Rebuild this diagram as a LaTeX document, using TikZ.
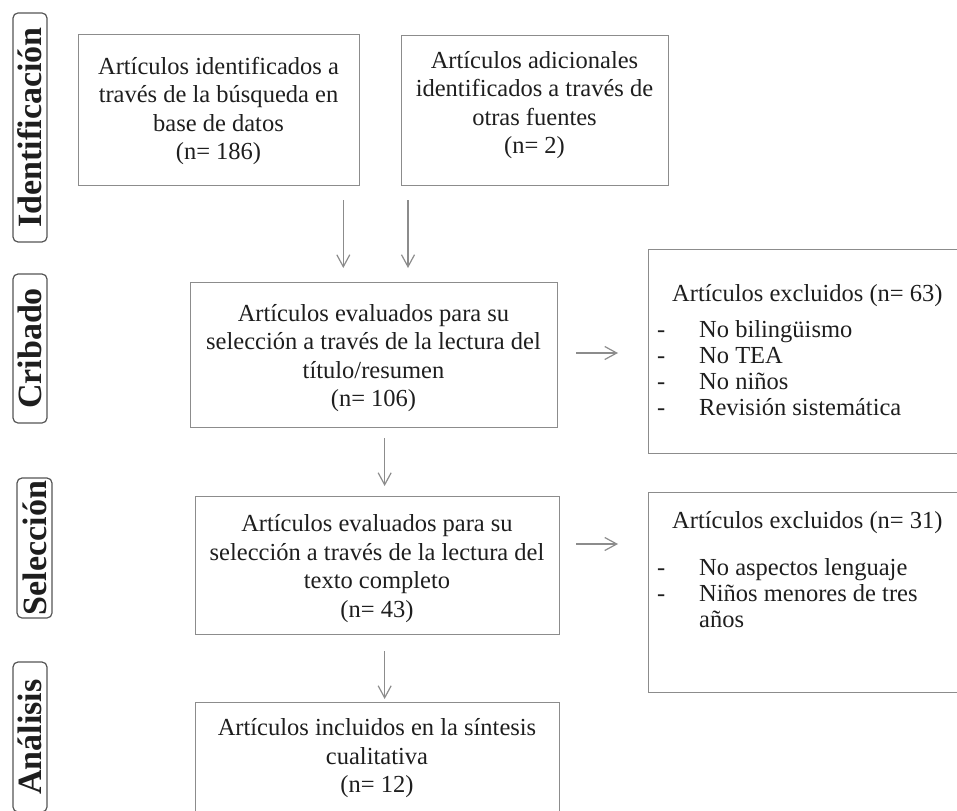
\documentclass[tikz,border=0pt]{standalone}
\usepackage{fontspec}
\setmainfont{Liberation Serif}
\usetikzlibrary{arrows.meta,calc}
\definecolor{boxgray}{HTML}{8C8C8C}
\definecolor{txtcol}{HTML}{1E1E1E}
\definecolor{labgray}{HTML}{555555}
\begin{document}
\begin{tikzpicture}[x=1pt,y=-1pt,
  box/.style={draw=boxgray,line width=1.3pt,rectangle,inner sep=0pt,anchor=north west},
  txt/.style={text=txtcol,align=center,font=\fontsize{24.5}{28.5}\selectfont,inner sep=0pt},
  exttl/.style={text=txtcol,anchor=base west,font=\fontsize{24.5}{26}\selectfont,inner sep=0pt},
  lab/.style={draw=labgray,line width=1.2pt,rounded corners=5pt,rotate=90,inner sep=0pt,
              font=\fontsize{34}{34}\selectfont\bfseries,text=txtcol},
  arr/.style={draw=boxgray,line width=1.2pt,-{Straight Barb[length=12pt,width=13pt]}}]
\useasboundingbox (0,0) rectangle (957,810);
\clip (0,0) rectangle (957,810);

% side labels
\node[lab,minimum width=229pt,minimum height=34pt] (l1) at (30,127.5) {Identificación};
\node[lab,minimum width=149pt,minimum height=34pt] (l2) at (30,348.5) {Cribado};
\node[lab,minimum width=140pt,minimum height=35pt] (l3) at (34.5,548) {Selección};
\node[lab,minimum width=150pt,minimum height=34pt] (l4) at (30,737) {Análisis};

% main boxes
\node[box,minimum width=281pt,minimum height=151pt] (A) at (78,34) {};
\node[box,minimum width=267pt,minimum height=150pt] (B) at (401,35) {};
\node[box,minimum width=367pt,minimum height=145pt] (C) at (190,282) {};
\node[box,minimum width=364pt,minimum height=138pt] (D) at (195,496) {};
\node[box,minimum width=364pt,minimum height=150pt] (E) at (195,702) {};
\node[box,minimum width=330pt,minimum height=204pt] (X1) at (648,249) {};
\node[box,minimum width=330pt,minimum height=200pt] (X2) at (648,492) {};

% texts
\node[txt] (tA) at (218.5,111) {Artículos identificados a\\través de la búsqueda en\\base de datos\\(n= 186)};
\node[txt] (tB) at (534.5,105) {Artículos adicionales\\identificados a través de\\otras fuentes\\(n= 2)};
\node[txt] (tC) at (373.5,358) {Artículos evaluados para su\\selección a través de la lectura del\\título/resumen\\(n= 106)};
\node[txt] (tD) at (377,568.5) {Artículos evaluados para su\\selección a través de la lectura del\\texto completo\\(n= 43)};
\node[txt] (tE) at (377,758.5) {Artículos incluidos en la síntesis\\cualitativa\\(n= 12)};

\node[exttl] (x1t) at (672,301) {Artículos excluidos (n= 63)};
\node[exttl] (x1l) at (657,337) {\begin{tabular}[t]{@{}p{42pt}@{}l@{}}
-& No bilingüismo\\
-& No TEA\\
-& No niños\\
-& Revisión sistemática
\end{tabular}};
\node[exttl] (x2t) at (672,528) {Artículos excluidos (n= 31)};
\node[exttl] (x2l) at (657,575) {\begin{tabular}[t]{@{}p{42pt}@{}l@{}}
-& No aspectos lenguaje\\
-& Niños menores de tres\\
 & años
\end{tabular}};

% connectors
\draw[arr,shorten <=14pt,shorten >=14pt] ([xshift=-17pt]A.south east) -- ([xshift=-17pt]A.south east |- C.north);
\draw[arr,shorten <=14pt,shorten >=14pt] ([xshift=7pt]B.south west) -- ([xshift=7pt]B.south west |- C.north);
\draw[arr,shorten <=10pt,shorten >=10pt] ([xshift=10.5pt]C.south) -- ([xshift=10.5pt]C.south |- D.north);
\draw[arr,shorten <=16pt,shorten >=3pt] ([xshift=7pt]D.south) -- ([xshift=7pt]D.south |- E.north);
\draw[arr,shorten <=18pt,shorten >=30pt] (C.east |- 0,353) -- (X1.west |- 0,353);
\draw[arr,shorten <=16pt,shorten >=30pt] (D.east |- 0,544) -- (X2.west |- 0,544);
\end{tikzpicture}
\end{document}
